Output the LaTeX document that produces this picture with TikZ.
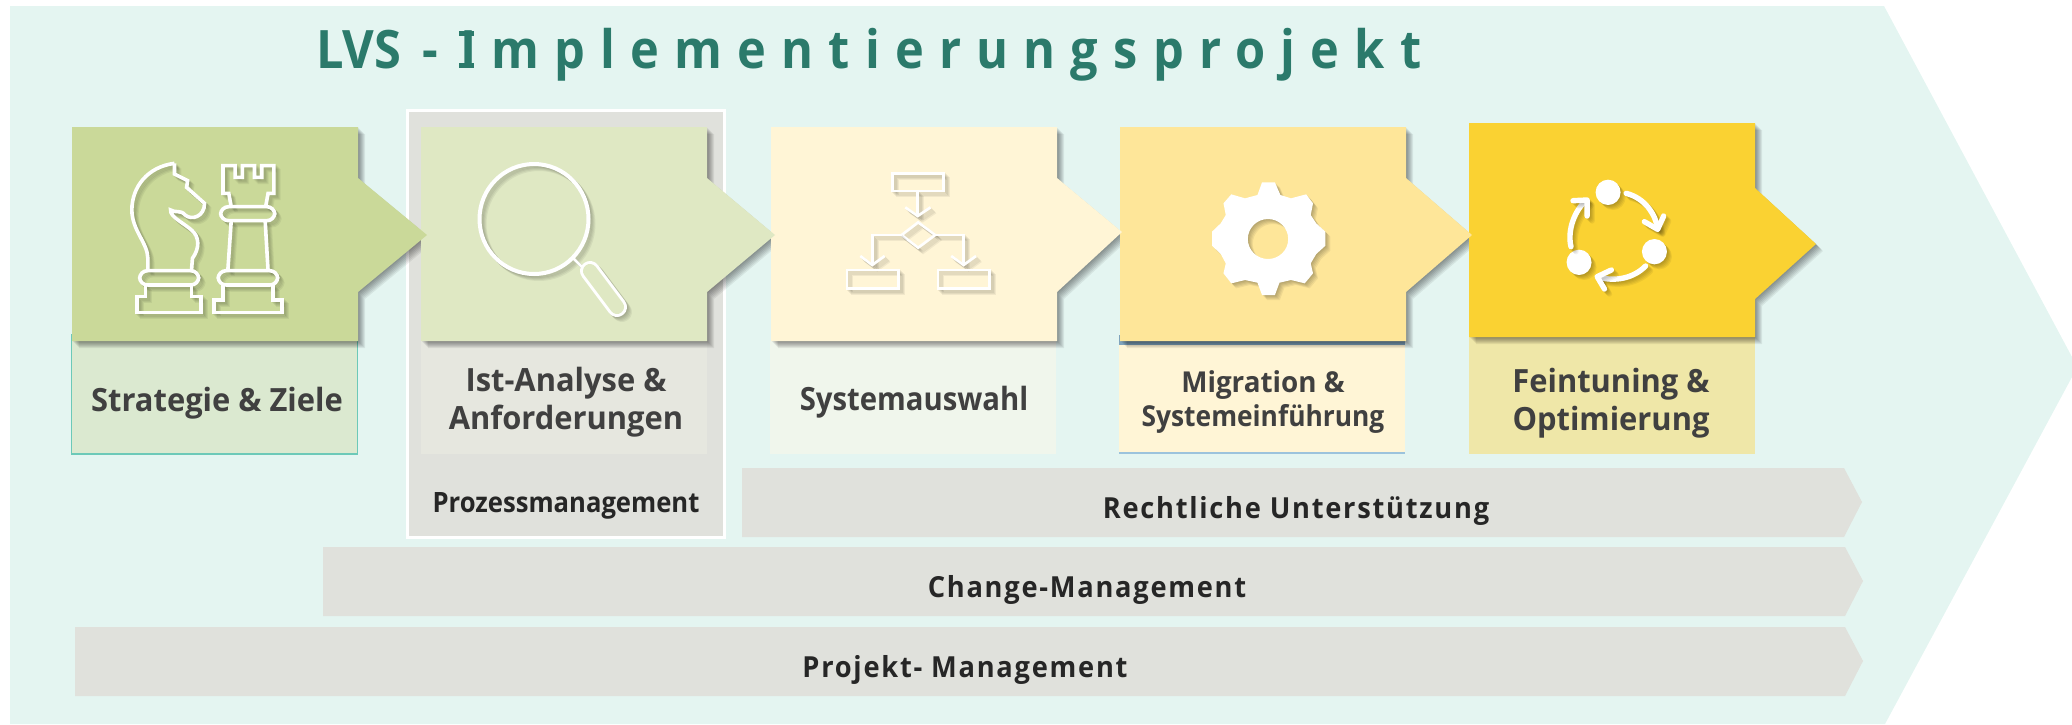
\documentclass[tikz,border=0pt]{standalone}
\usepackage{fontspec}
\setmainfont{Open Sans}
\newfontfamily\labfont[FakeStretch=0.965]{Open Sans}
\newfontfamily\labnarrow[FakeStretch=0.915]{Open Sans}
\newfontfamily\ttlfont[FakeStretch=0.92]{Open Sans}
\newfontfamily\ttlsp[FakeStretch=0.92,LetterSpace=28.6]{Open Sans}
\newfontfamily\barfont[LetterSpace=6,FakeStretch=0.94]{Open Sans}
\definecolor{bgc}{HTML}{E4F5F1}
\definecolor{barc}{HTML}{E0E1DC}
\definecolor{bxa}{HTML}{CAD999}
\definecolor{bxb}{HTML}{DFE8C3}
\definecolor{bxc}{HTML}{FFF5D6}
\definecolor{bxd}{HTML}{FEE699}
\definecolor{bxe}{HTML}{FAD232}
\definecolor{lba}{HTML}{DBE9D0}
\definecolor{lbb}{HTML}{E6E7DF}
\definecolor{lbc}{HTML}{F0F6EC}
\definecolor{lbd}{HTML}{FFF5D6}
\definecolor{lbe}{HTML}{EFE7A8}
\definecolor{ttlc}{HTML}{2B7A6B}
\definecolor{txtc}{HTML}{404040}
\definecolor{edgea}{HTML}{6CC9B8}
\definecolor{edged}{HTML}{9CC3DC}
\definecolor{bandd}{HTML}{7FA3BC}
\newcommand\chev[9]{(#1,#2)--(#3,#2)--(#3,#5)--(#8,#9)--(#3,#6)--(#3,#4)--(#1,#4)--cycle}
\newcommand\softfill[1]{\foreach \k in {1,...,7}{\fill[black,fill opacity=.068,shift={(\k*.5pt,-\k*.5pt)}] #1;}}
\newcommand\softline[2]{\foreach \k in {1,...,5}{\draw[black,draw opacity=.055,#1,shift={(\k*.5pt,-\k*.5pt)}] #2;}\draw[white,#1] #2;}
\newcommand\softsolid[2]{\foreach \k in {1,...,5}{\fill[black,fill opacity=.06,#1,shift={(\k*.5pt,-\k*.5pt)}] #2;}\fill[white,#1] #2;}
\tikzset{
 labeltext/.style={anchor=base,inner sep=0pt,text=txtc,font=\labfont\bfseries\fontsize{16}{19}\selectfont},
 bartext/.style={anchor=base,inner sep=0pt,text=black!85,font=\barfont\bfseries\fontsize{14.5}{17}\selectfont},
 iconline/.style={line width=1.8pt,line join=miter},
 thinicon/.style={line width=1.3pt,line join=miter},
 titletext/.style={inner sep=0pt,text=ttlc},
}
\begin{document}
\begin{tikzpicture}[x=.5pt,y=-.5pt]
\useasboundingbox (0,0) rectangle (2072,724);
% background arrow
\fill[bgc] (10,6)--(1884,6)--(2072,357)--(2072,377)--(1885,724)--(10,724)--cycle;
% bars
\fill[barc] (742,468)--(1844,468)--(1862,502)--(1844,537)--(742,537)--cycle;
\fill[barc] (323,547)--(1845,547)--(1863,581)--(1845,616)--(323,616)--cycle;
\fill[barc] (75,627)--(1845,627)--(1863,661)--(1845,696)--(75,696)--cycle;
% panel
\fill[barc,draw=white,line width=1.3pt] (407.5,110.5) rectangle (724.5,537.5);
% label boxes
\fill[lba,draw=edgea,line width=.6pt] (71.5,335) rectangle (357.5,454);
\fill[lbb] (421,341) rectangle (707,454);
\fill[lbc] (770,341) rectangle (1056,454);
\fill[bandd] (1119,335) rectangle (1405,345);
\fill[lbd] (1119,345) rectangle (1405,452);
\fill[edged] (1119,452) rectangle (1405,454);
\fill[lbe] (1469,337) rectangle (1755,454);
% shadows
\softfill{\chev{1469}{123}{1755}{337}{188}{299}{}{1816}{244}}
\softfill{\chev{1120}{127}{1406}{341}{178}{292}{}{1472}{235}}
\softfill{\chev{771}{127}{1057}{341}{178}{292}{}{1122}{232}}
\softfill{\chev{421}{127}{707}{341}{178}{292}{}{775}{235}}
\softfill{\chev{72}{127}{358}{341}{178}{292}{}{427}{235}}
% chevrons
\fill[bxe] \chev{1469}{123}{1755}{337}{188}{299}{}{1816}{244};
\fill[bxd] \chev{1120}{127}{1406}{341}{178}{292}{}{1472}{235};
\fill[bxc] \chev{771}{127}{1057}{341}{178}{292}{}{1122}{232};
\fill[bxb] \chev{421}{127}{707}{341}{178}{292}{}{775}{235};
\fill[bxa] \chev{72}{127}{358}{341}{178}{292}{}{427}{235};
% chess icon
\begin{scope}[x=.24237pt,y=-.16667pt]
\softline{iconline}{(360,490) .. controls (305,500) and (272,560) .. (272,630) .. controls (272,690) and (305,730) .. (305,775) -- (305,812)}
\softline{iconline}{(395,812) -- (397,775) .. controls (412,745) and (412,710) .. (395,690) .. controls (380,670) and (350,650) .. (352,630) .. controls (362,640) and (372,628) .. (382,645) .. controls (395,662) and (422,650) .. (422,610) -- (385,562) -- (387,542) -- (360,522) -- (360,490)}
\softline{iconline,rounded corners=4pt}{(288,812) rectangle (410,855)}
\softline{iconline}{(300,855) -- (300,890) -- (283,890) -- (283,938) -- (415,938) -- (415,890) -- (395,890) -- (395,855)}
\softline{iconline}{(477,620) -- (472,580) -- (460,580) -- (460,497) -- (485,497) -- (485,532) -- (500,532) -- (500,497) -- (525,497) -- (525,532) -- (540,532) -- (540,497) -- (565,497) -- (565,580) -- (553,580) -- (548,620)}
\softline{iconline,rounded corners=4pt}{(455,620) rectangle (567,662)}
\softline{iconline}{(477,662) -- (470,812)}
\softline{iconline}{(547,662) -- (553,812)}
\softline{iconline,rounded corners=4pt}{(450,812) rectangle (573,855)}
\softline{iconline}{(460,855) -- (460,900) -- (442,900) -- (442,938) -- (582,938) -- (582,900) -- (563,900) -- (563,855)}
\end{scope}
% magnifier
\softline{line width=2pt}{(534,219) circle[x radius=54.5,y radius=55]}
\softline{thinicon}{(573,258) -- (585,270)}
\softline{line width=10pt,line cap=round}{(590,271) -- (617,307)}
\draw[bxb,line width=7pt,line cap=round] (590,271) -- (617,307);
% flowchart icon
\begin{scope}[shift={(740,100)},x=.22957pt,y=-.16667pt]
\softline{thinicon}{(332,220) rectangle (443,273)}
\softline{thinicon}{(387,273) -- (387,346)}
\softline{thinicon}{(360,322) -- (387,348) -- (415,322)}
\softline{thinicon}{(388,367) -- (425,405) -- (388,443) -- (352,405) -- cycle}
\softline{thinicon}{(352,405) -- (288,405) -- (288,493)}
\softline{thinicon}{(262,468) -- (288,495) -- (315,468)}
\softline{thinicon}{(425,405) -- (487,405) -- (487,493)}
\softline{thinicon}{(460,468) -- (487,495) -- (514,468)}
\softline{thinicon}{(233,510) rectangle (345,565)}
\softline{thinicon}{(431,510) rectangle (543,565)}
% gear
\softsolid{even odd rule}{(1137,247)--(1165,247)--(1177,285)--(1200,295)--(1233,283)--(1248,310)--(1243,345)--(1255,370)--(1275,395)--(1275,437)--(1255,462)--(1243,490)--(1248,520)--(1230,550)--(1200,540)--(1175,548)--(1165,585)--(1137,585)--(1127,548)--(1100,540)--(1070,550)--(1053,520)--(1058,490)--(1047,462)--(1028,437)--(1028,395)--(1047,370)--(1058,345)--(1053,310)--(1070,283)--(1100,295)--(1127,285)--cycle (1150,417) circle[x radius=44,y radius=60]}
\end{scope}
% cycle icon
\begin{scope}[shift={(1440,100)},x=.20153pt,y=-.16667pt]
\softsolid{}{(417,277) circle[x radius=31,y radius=38]}
\softsolid{}{(532,455) circle[x radius=31,y radius=38]}
\softsolid{}{(345,487) circle[x radius=31,y radius=38]}
\tikzset{cyc/.style={line width=2.7pt,line cap=round,line join=round}}
\softline{cyc}{(462,280) .. controls (510,295) and (535,345) .. (540,385)}
\softline{cyc}{(507,365) -- (540,388) -- (555,348)}
\softline{cyc}{(510,498) .. controls (480,535) and (435,545) .. (395,532)}
\softline{cyc}{(425,510) -- (390,530) -- (408,567)}
\softline{cyc}{(325,440) .. controls (315,390) and (335,330) .. (362,302)}
\softline{cyc}{(330,302) -- (365,300) -- (365,348)}
\end{scope}
% texts
\node[titletext,anchor=base west,font=\ttlfont\bfseries\fontsize{26.5}{32}\selectfont] (titlea) at (316,68) {LVS\hspace{10.3pt}-};
\node[titletext,anchor=base west,font=\ttlsp\bfseries\fontsize{26.5}{32}\selectfont] (titleb) at (460,68) {Implementierungsprojekt};
\fill[ttlc] (459,31) rectangle (474,36);
\fill[ttlc] (459,63) rectangle (474,68);
\node[labeltext] (l1) at (217,411) {Strategie \& Ziele};
\node[labeltext] (l2a) at (566,391) {Ist-Analyse \&};
\node[labeltext] (l2b) at (566,429) {Anforderungen};
\node[labeltext,font=\labnarrow\bfseries\fontsize{16}{19}\selectfont] (l3) at (914,410) {Systemauswahl};
\node[labeltext,font=\labfont\bfseries\fontsize{14.4}{17}\selectfont] (l4a) at (1263,392) {Migration \&};
\node[labeltext,font=\labnarrow\bfseries\fontsize{14.4}{17}\selectfont] (l4b) at (1263,426) {Systemeinführung};
\node[labeltext] (l5a) at (1611,392) {Feintuning \&};
\node[labeltext] (l5b) at (1611,430) {Optimierung};
\node[labeltext,text=black!85,font=\labnarrow\bfseries\fontsize{14}{17}\selectfont] (pm) at (566,512) {Prozessmanagement};
\node[bartext] (b1) at (1296,518) {Rechtliche Unterstützung};
\node[bartext] (b2) at (1087,597) {Change-Management};
\node[bartext] (b3) at (965,677) {Projekt- Management};
\end{tikzpicture}
\end{document}
